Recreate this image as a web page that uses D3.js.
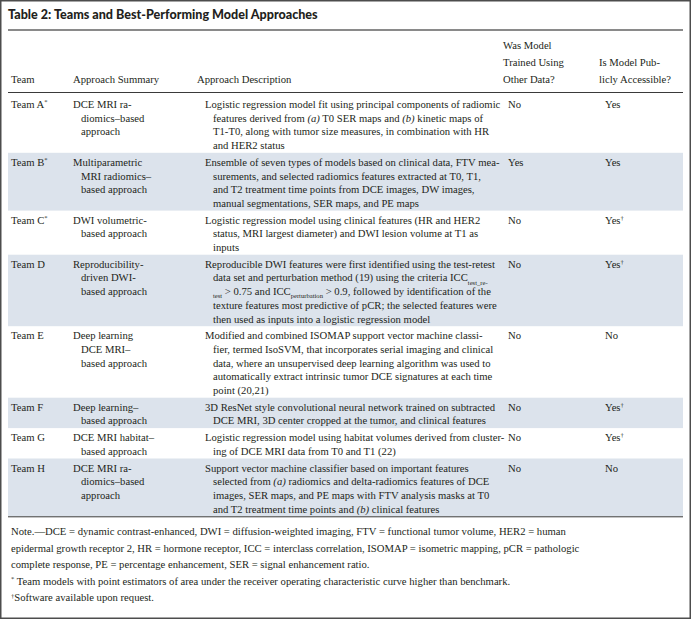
<!DOCTYPE html>
<html><head><meta charset="utf-8">
<script src="https://cdn.jsdelivr.net/npm/d3@7"></script>
<style>body{margin:0;background:#fff}svg{display:block}</style>
</head><body><svg id="c"></svg>
<script>
// ---------- data ----------
const title = "Table 2: Teams and Best-Performing Model Approaches";
const columns = ["team", "summary", "description", "otherData", "publicAccess"];
const headers = [["Team"], ["Approach Summary"], ["Approach Description"],
  ["Was Model", "Trained Using", "Other Data?"], ["Is Model Pub-", "licly Accessible?"]];
const teams = ["Team A<sup>*</sup>", "Team B<sup>*</sup>", "Team C<sup>*</sup>", "Team D", "Team E", "Team F", "Team G", "Team H"];
const summaries = [
  ["DCE MRI ra-", "diomics–based", "approach"],
  ["Multiparametric", "MRI radiomics–", "based approach"],
  ["DWI volumetric-", "based approach"],
  ["Reproducibility-", "driven DWI-", "based approach"],
  ["Deep learning", "DCE MRI–", "based approach"],
  ["Deep learning–", "based approach"],
  ["DCE MRI habitat–", "based approach"],
  ["DCE MRI ra-", "diomics–based", "approach"]
];
const descriptions = [
  ["Logistic regression model fit using principal components of radiomic",
   "features derived from <i>(a)</i> T0 SER maps and <i>(b)</i> kinetic maps of",
   "T1-T0, along with tumor size measures, in combination with HR",
   "and HER2 status"],
  ["Ensemble of seven types of models based on clinical data, FTV mea-",
   "surements, and selected radiomics features extracted at T0, T1,",
   "and T2 treatment time points from DCE images, DW images,",
   "manual segmentations, SER maps, and PE maps"],
  ["Logistic regression model using clinical features (HR and HER2",
   "status, MRI largest diameter) and DWI lesion volume at T1 as",
   "inputs"],
  ["Reproducible DWI features were first identified using the test-retest",
   "data set and perturbation method (19) using the criteria ICC<sub>test_re-</sub>",
   "<sub>test</sub> > 0.75 and ICC<sub>perturbation</sub> > 0.9, followed by identification of the",
   "texture features most predictive of pCR; the selected features were",
   "then used as inputs into a logistic regression model"],
  ["Modified and combined ISOMAP support vector machine classi-",
   "fier, termed IsoSVM, that incorporates serial imaging and clinical",
   "data, where an unsupervised deep learning algorithm was used to",
   "automatically extract intrinsic tumor DCE signatures at each time",
   "point (20,21)"],
  ["3D ResNet style convolutional neural network trained on subtracted",
   "DCE MRI, 3D center cropped at the tumor, and clinical features"],
  ["Logistic regression model using habitat volumes derived from cluster-",
   "ing of DCE MRI data from T0 and T1 (22)"],
  ["Support vector machine classifier based on important features",
   "selected from <i>(a)</i> radiomics and delta-radiomics features of DCE",
   "images, SER maps, and PE maps with FTV analysis masks at T0",
   "and T2 treatment time points and <i>(b)</i> clinical features"]
];
const otherData = ["No", "Yes", "No", "No", "No", "No", "No", "No"];
const publicAccess = ["Yes", "Yes", "Yes<sup>†</sup>", "Yes<sup>†</sup>", "No", "Yes<sup>†</sup>", "Yes<sup>†</sup>", "No"];
const noteLines = [
  "Note.—DCE = dynamic contrast-enhanced, DWI = diffusion-weighted imaging, FTV = functional tumor volume, HER2 = human",
  "epidermal growth receptor 2, HR = hormone receptor,  ICC = interclass correlation, ISOMAP = isometric mapping, pCR = pathologic",
  "complete response, PE = percentage enhancement, SER = signal enhancement ratio.",
  "<sup>*</sup> Team models with point estimators of area under the receiver operating characteristic curve higher than benchmark.",
  "<sup>†</sup>Software available upon request."
];

// ---------- layout ----------
const W = 691, H = 619;
const ink = "#231f20";
const serif = "'Liberation Serif','Times New Roman',serif";
const sans = "Lato,'Open Sans',sans-serif";
const svg = d3.select("#c").attr("width", W).attr("height", H)
  .style("font-family", serif).style("fill", ink);

function fit(str, fam, weight, target) {
  const t = svg.append("text").style("font-family", fam).style("font-weight", weight)
    .style("font-size", "20px").text(str);
  const w = t.node().getComputedTextLength(); t.remove();
  return 20 * target / w;
}
const fs = fit("Logistic regression model fit using principal components of radiomic", serif, 400, 296);
const titleFs = fit(title, sans, 900, 310);

const colX = d3.scaleOrdinal().domain(columns).range([11, 73, 205, 508, 605]);
const headX = d3.scaleOrdinal().domain(columns).range([11, 73, 197, 503, 599]);
const indent = 8;
const L = 13.7, padTop = 2.5, padBot = 0.5, baseOff = 10.5;

function rich(sel, str, size) {
  const parts = str.split(/(<\/?(?:i|sub|sup)>)/).filter(s => s.length);
  let italic = false, mode = null, pending = 0;
  parts.forEach(p => {
    if (p === "<i>") { italic = true; return; }
    if (p === "</i>") { italic = false; return; }
    if (p === "<sub>") { mode = "sub"; pending += size * 0.3; return; }
    if (p === "<sup>") { mode = "sup"; pending -= size * 0.35; return; }
    if (p === "</sub>") { mode = null; pending -= size * 0.3; return; }
    if (p === "</sup>") { mode = null; pending += size * 0.35; return; }
    const ts = sel.append("tspan").text(p)
      .style("font-size", (mode ? size * 0.62 : size) + "px")
      .style("font-style", italic ? "italic" : "normal");
    if (pending) { ts.attr("dy", pending); pending = 0; }
  });
}

// outer border
svg.append("rect").attr("x", 0.75).attr("y", 0.75).attr("width", W - 1.5).attr("height", H - 1.5)
  .attr("fill", "#fff").attr("stroke", "#4d4d4d").attr("stroke-width", 1.5);

// title
svg.append("text").attr("x", 8).attr("y", 19).text(title)
  .style("font-family", sans).style("font-weight", 900).style("font-size", titleFs + "px");
svg.append("line").attr("x1", 8).attr("x2", 683).attr("y1", 30).attr("y2", 30)
  .attr("stroke", "#8a8a8a").attr("stroke-width", 2);

// header (bottom aligned)
const headBottom = 83, headL = 17;
headers.forEach((lines, ci) => {
  lines.forEach((ln, k) => {
    const t = svg.append("text").attr("x", headX(columns[ci]))
      .attr("y", headBottom - (lines.length - 1 - k) * headL);
    rich(t, ln, fs);
  });
});
svg.append("line").attr("x1", 8).attr("x2", 683).attr("y1", 92.5).attr("y2", 92.5)
  .attr("stroke", "#3a3a3a").attr("stroke-width", 1);

// body rows
const rows = teams.map((t, i) => ({
  team: [t], summary: summaries[i], description: descriptions[i],
  otherData: [otherData[i]], publicAccess: [publicAccess[i]]
}));
let y0 = 95;
rows.forEach(r => {
  r.n = Math.max(r.summary.length, r.description.length);
  r.top = y0; r.h = r.n * L + padTop + padBot; y0 += r.h;
});
const bodyBottom = y0;

const rowG = svg.selectAll("g.row").data(rows).join("g").attr("class", "row");
rowG.filter((d, i) => i % 2 === 1).append("rect")
  .attr("x", 8).attr("width", 675).attr("y", d => d.top).attr("height", d => d.h)
  .attr("fill", "#dce3ec");
rowG.each(function (d) {
  const g = d3.select(this);
  columns.forEach(c => {
    d[c].forEach((ln, k) => {
      const t = g.append("text")
        .attr("x", colX(c) + (k > 0 ? indent : 0))
        .attr("y", d.top + padTop + baseOff + k * L);
      rich(t, ln, fs);
    });
  });
});

// note
svg.append("line").attr("x1", 8).attr("x2", 683).attr("y1", bodyBottom + 0.5).attr("y2", bodyBottom + 0.5)
  .attr("stroke", "#3a3a3a").attr("stroke-width", 1);
const noteL = 16.5;
noteLines.forEach((ln, k) => {
  const t = svg.append("text").attr("x", 11).attr("y", bodyBottom + 19 + k * noteL);
  rich(t, ln, fs);
});
</script></body></html>
